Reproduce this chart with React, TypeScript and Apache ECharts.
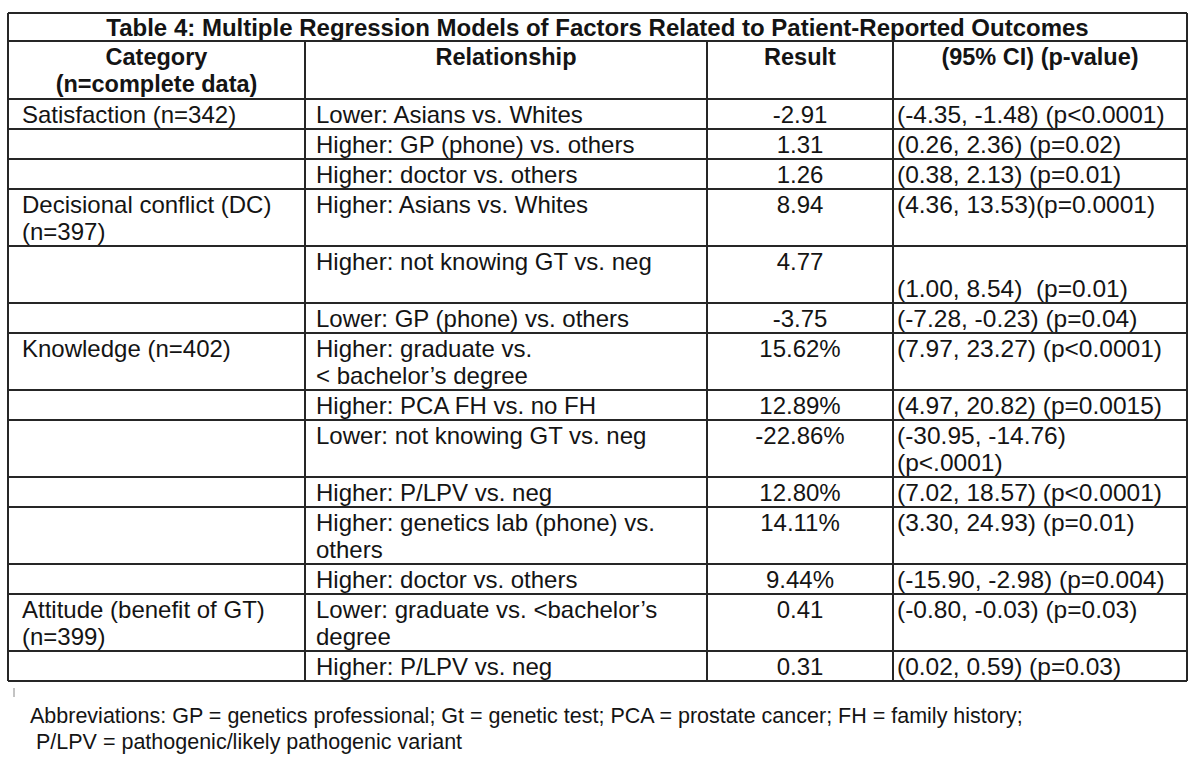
import React, { useEffect, useRef } from "react";
import * as echarts from "echarts";

const titleText = "Table 4: Multiple Regression Models of Factors Related to Patient-Reported Outcomes";
const headers = ["Category\n(n=complete data)", "Relationship", "Result", "(95% CI) (p-value)"];

const categories = [
  "Satisfaction (n=342)",
  "",
  "",
  "Decisional conflict (DC)\n(n=397)",
  "",
  "",
  "Knowledge (n=402)",
  "",
  "",
  "",
  "",
  "",
  "Attitude (benefit of GT)\n(n=399)",
  "",
];

const relationships = [
  "Lower: Asians vs. Whites",
  "Higher: GP (phone) vs. others",
  "Higher: doctor vs. others",
  "Higher: Asians vs. Whites",
  "Higher: not knowing GT vs. neg",
  "Lower: GP (phone) vs. others",
  "Higher: graduate vs.\n< bachelor\u2019s degree",
  "Higher: PCA FH vs. no FH",
  "Lower: not knowing GT vs. neg",
  "Higher: P/LPV vs. neg",
  "Higher: genetics lab (phone) vs.\nothers",
  "Higher: doctor vs. others",
  "Lower: graduate vs. <bachelor\u2019s\ndegree",
  "Higher: P/LPV vs. neg",
];

const results = [
  "-2.91",
  "1.31",
  "1.26",
  "8.94",
  "4.77",
  "-3.75",
  "15.62%",
  "12.89%",
  "-22.86%",
  "12.80%",
  "14.11%",
  "9.44%",
  "0.41",
  "0.31",
];

const intervals = [
  "(-4.35, -1.48) (p<0.0001)",
  "(0.26, 2.36) (p=0.02)",
  "(0.38, 2.13) (p=0.01)",
  "(4.36, 13.53)(p=0.0001)",
  "\n(1.00, 8.54)  (p=0.01)",
  "(-7.28, -0.23) (p=0.04)",
  "(7.97, 23.27) (p<0.0001)",
  "(4.97, 20.82) (p=0.0015)",
  "(-30.95, -14.76)\n(p<.0001)",
  "(7.02, 18.57) (p<0.0001)",
  "(3.30, 24.93) (p=0.01)",
  "(-15.90, -2.98) (p=0.004)",
  "(-0.80, -0.03) (p=0.03)",
  "(0.02, 0.59) (p=0.03)",
];

const footnotes = [
  "Abbreviations: GP = genetics professional; Gt = genetic test; PCA = prostate cancer; FH = family history;",
  " P/LPV = pathogenic/likely pathogenic variant",
];

export default function App() {
  const ref = useRef<HTMLDivElement>(null);

  useEffect(() => {
    if (!ref.current) return;
    const chart = echarts.init(ref.current, null, { renderer: "svg" });

    const FONT = "Liberation Sans, Arial, Helvetica, sans-serif";
    const FS = 24;
    const CIFS = 24.5;
    const TFS = 24;
    const HFS = 23.5;
    const LH = 27;
    const TEXT = "#141414";
    const LINE = "#262626";
    const LW = 2;

    const left = 8;
    const right = 1187;
    const top = 13;
    const titleBottom = 41;
    const headerBottom = 99;
    const colX = [left, 305, 707, 893, right];

    const els: any[] = [];

    const rowTops: number[] = [];
    let y = headerBottom;
    const nLines = (s: string) => s.split("\n").length;
    for (let i = 0; i < relationships.length; i++) {
      rowTops.push(y);
      const n = Math.max(nLines(categories[i]), nLines(relationships[i]), nLines(results[i]), nLines(intervals[i]));
      y += 3 + LH * n;
    }
    const bottom = y;

    const hline = (yy: number) =>
      els.push({ type: "line", shape: { x1: left, y1: yy, x2: right, y2: yy }, style: { stroke: LINE, lineWidth: LW } });
    const vline = (xx: number, y1: number, y2: number) =>
      els.push({ type: "line", shape: { x1: xx, y1, x2: xx, y2 }, style: { stroke: LINE, lineWidth: LW } });

    const txt = (s: string, x: number, yy: number, align: string, bold = false, fs = FS) =>
      els.push({
        type: "text",
        style: {
          text: s,
          x,
          y: yy,
          fill: TEXT,
          fontFamily: FONT,
          fontSize: fs,
          fontWeight: bold ? "bold" : "normal",
          align,
          verticalAlign: "top",
          lineHeight: LH,
        },
      });

    txt(titleText, (left + right) / 2, top + 0.5, "center", true, TFS);

    headers.forEach((h, i) => {
      txt(h, (colX[i] + colX[i + 1]) / 2, titleBottom + 2, "center", true, HFS);
    });

    for (let i = 0; i < relationships.length; i++) {
      const ty = rowTops[i] + 1.5;
      if (categories[i]) txt(categories[i], colX[0] + 14, ty, "left");
      txt(relationships[i], colX[1] + 11, ty, "left");
      txt(results[i], (colX[2] + colX[3]) / 2, ty, "center");
      txt(intervals[i], colX[3] + 4, ty, "left", false, CIFS);
    }

    hline(top);
    hline(titleBottom);
    hline(headerBottom);
    rowTops.forEach((t, i) => i > 0 && hline(t));
    hline(bottom);
    vline(left, top, bottom);
    vline(right, top, bottom);
    for (let c = 1; c < colX.length - 1; c++) vline(colX[c], titleBottom, bottom);

    els.push({ type: "line", shape: { x1: 14, y1: bottom + 7, x2: 14, y2: bottom + 16 }, style: { stroke: "#888", lineWidth: 1 } });

    footnotes.forEach((f, i) => {
      els.push({
        type: "text",
        style: {
          text: f,
          x: 30,
          y: 705 + i * 26,
          fill: TEXT,
          fontFamily: FONT,
          fontSize: 21.5,
          align: "left",
          verticalAlign: "top",
        },
      });
    });

    chart.setOption({
      animation: false,
      backgroundColor: "#ffffff",
      graphic: { elements: els },
    });

    return () => chart.dispose();
  }, []);

  return (
    <div
      ref={ref}
      style={{ position: "absolute", left: 0, top: 0, width: 1200, height: 758, background: "#fff" }}
    />
  );
}
